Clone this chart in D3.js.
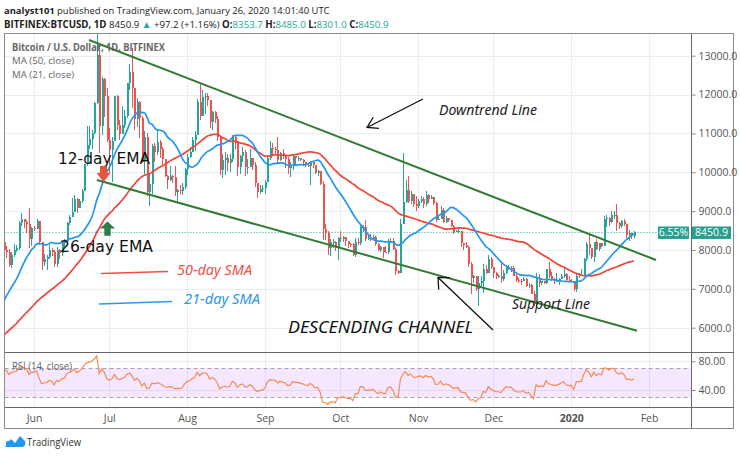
<!DOCTYPE html>
<html><head><meta charset="utf-8">
<script src="https://cdn.jsdelivr.net/npm/d3@7"></script>
<style>body{margin:0;background:#fff}svg{display:block}</style>
</head><body>
<svg id="c" width="740" height="457"></svg>
<script>
// ---------- DATA ----------
const closeStart = "2019-03-20";
const closes = [
 4076,4000,4010,4020,4000,3920,3940,4090,4080,4110,4100,4110,
 4140,4860,4970,4920,5040,5080,5200,5280,5180,5310,5060,5070,5070,5160,5030,5230,5240,5290,5260,5300,5260,5370,5530,5420,5170,5230,5240,5230,5210,5320,
 5380,5490,5770,5830,5770,5720,5830,5990,6170,6350,7230,6970,7810,7990,8210,7880,7340,7270,8200,7990,7940,7620,7880,8000,8060,8690,8800,8720,8660,8270,8560,
 8550,8740,8210,7690,7780,7810,8000,7950,7630,8010,7920,8170,8220,8700,8860,8990,9320,9080,9270,9530,10210,10700,10860,11010,11790,13020,11180,12410,11960,10820,
 10580,10800,11960,11220,10980,11210,11450,12290,12570,12160,11360,11820,11390,10260,10900,9480,9690,10670,10530,10770,10600,10340,9900,9810,9910,9870,9480,9550,9520,9610,10090,
 10400,10520,10820,10970,11800,11450,11940,11970,11860,11300,11540,11380,10900,10050,10310,10360,10230,10340,10920,10760,10130,10410,10530,10140,10140,10370,10190,9720,9480,9580,9600,
 9760,10370,10620,10590,10580,10320,10490,10410,10340,10120,10150,10420,10360,10360,10310,10260,10190,10160,10270,10180,9990,10030,9700,8530,8430,8060,8200,8200,8040,8310,
 8290,8340,8230,8160,8150,7880,8210,8190,8590,8590,8270,8300,8290,8340,8160,8000,8080,7960,7950,8220,8240,8030,7470,7410,8660,9240,9550,9250,9430,9180,9140,
 9260,9320,9180,9410,9310,9360,9210,8770,8810,9040,8730,8820,8760,8630,8460,8490,8500,8170,8120,8080,7630,7280,7320,6990,7150,7190,7520,7420,7760,7570,
 7420,7320,7320,7250,7400,7550,7510,7530,7340,7220,7200,7190,7250,7070,7110,6880,6620,7280,7150,7190,7150,7510,7320,7260,7200,7200,7250,7320,7390,7220,7190,
 7200,6990,7340,7350,7360,7760,8160,8040,7820,8200,8020,8180,8110,8810,8820,8720,8900,8910,8700,8630,8740,8660,8390,8430,8353.7,8450.9
];
const candleStart = "2019-05-15";
const highs = [
 8300,8320,7930,7440,8260,8200,8100,8030,7950,8160,8140,8740,8940,8800,8760,9080,8590,
 8620,8800,8740,8210,7900,7880,8140,8050,7990,8070,8020,8220,8280,8710,8910,9350,9420,9330,9300,9580,10220,11200,11200,11100,11800,13900,13310,12450,12430,12180,
 11150,10900,11970,12000,11350,11700,11590,12300,12780,13200,12140,11900,11840,11440,11050,11000,9970,10740,10760,11100,10830,10660,10350,9920,10160,9920,10170,9580,9680,9720,10120,
 10460,10660,10920,11060,11890,12290,12110,12040,12040,11860,11580,11580,11450,10900,10480,10520,10470,10480,10950,10930,10790,10440,10640,10570,10330,10610,10380,10270,9720,9660,9670,
 9800,10440,10800,10760,10650,10900,10530,10590,10450,10390,10270,10450,10420,10420,10370,10350,10270,10230,10290,10270,10190,10050,10030,9780,8680,8490,8280,8290,8240,8330,
 8490,8360,8340,8230,8170,8170,8300,8300,8650,8650,8770,8410,8400,8390,8350,8170,8100,8080,8100,8280,8320,8310,8050,7490,8810,10500,9790,9900,9510,9450,9400,
 9300,9380,9360,9510,9440,9420,9370,9230,8870,9130,9070,8870,8830,8780,8650,8520,8600,8500,8180,8210,8100,7690,7350,7320,7320,7330,7640,7620,7860,7810,
 7570,7430,7390,7720,7490,7570,7620,7580,7600,7390,7280,7250,7300,7270,7160,7130,6950,7400,7370,7210,7200,7520,7680,7440,7280,7420,7280,7370,7530,7410,7330,
 7250,7210,7410,7400,7500,7790,8210,8400,8050,8200,8290,8190,8180,8880,8900,8850,9010,9000,9180,8720,8760,8790,8660,8510,8440,8485.0
];
const lows = [
 7950,7680,6900,7120,7270,7600,7800,7560,7540,7820,7960,8000,8630,8570,8450,8050,8100,
 8480,8540,8130,7480,7600,7490,7780,7840,7550,7560,7770,7850,8070,8180,8650,8840,8990,8940,9070,9210,9530,10150,10600,10600,10990,11750,10490,10950,11420,10780,
 9960,9760,10800,11080,10830,10990,11140,11400,12130,11650,11100,11170,10890,10230,9950,9380,9130,9440,10270,10450,10370,10170,9870,9580,9770,9730,9380,9200,9430,9420,9580,
 9920,10360,10530,10560,10970,11350,11450,11500,11700,11150,11080,11260,10800,9930,9850,9920,10040,10010,10270,10600,9900,9960,10270,9900,9950,10150,10060,9630,9350,9430,9500,
 9430,9750,10320,10440,10480,10240,10300,10330,10120,9950,9880,10070,10180,10290,10280,10150,10140,10130,9670,10110,9960,9900,9660,8250,8250,7860,7850,8040,7970,7730,
 8210,8210,8090,8040,8070,7840,7810,8140,8140,8470,8230,8260,8240,8250,8100,7970,7950,7800,7910,7900,8200,8010,7360,7370,7400,8920,9210,9220,9180,9100,9000,
 9070,9220,9080,9140,9210,9300,9170,8730,8760,8790,8690,8700,8720,8600,8400,8460,8440,8080,8010,8040,7550,6860,7150,6940,6560,7070,6890,7370,7420,7500,
 7270,7250,7270,7150,7200,7380,7490,7440,7320,7170,7160,7110,7190,7040,7030,6860,6560,6500,7050,7110,7130,7130,7270,7200,7130,7180,7100,7260,7290,7190,7170,
 7170,6940,6910,7280,7330,7350,7720,7870,7770,7700,8000,7980,8070,8100,8600,8620,8700,8810,8500,8530,8560,8610,8320,8230,8280,8301.0
];
const priceTicks = [6000,7000,8000,9000,10000,11000,12000,13000];
const rsiTicks = [40, 80];
const rsiBands = [70, 30];
const maLengths = {slow: 50, fast: 21};
const rsiLength = 14;
// drawn trend lines (time, price)
const upperLine = [["2019-06-22T22:00Z", 13404], ["2020-02-03T19:00Z", 7742]];
const lowerLine = [["2019-06-26T02:00Z", 9801], ["2020-01-27T05:00Z", 5923]];
const lastPrice = 8450.9;
const lastChange = "6.55%";

// ---------- BUILD ----------
const DAY = 864e5;
const t0 = Date.parse(closeStart + "T00:00Z");
const series = closes.map((c, i) => ({date: new Date(t0 + i * DAY), close: c}));
const c0 = Math.round((Date.parse(candleStart + "T00:00Z") - t0) / DAY);
const candles = highs.map((h, k) => {
  const i = c0 + k;
  return {date: series[i].date, open: closes[i - 1], close: closes[i], high: h, low: lows[k]};
});
function sma(n) {
  const out = [];
  let s = 0;
  for (let i = 0; i < closes.length; i++) {
    s += closes[i];
    if (i >= n) s -= closes[i - n];
    if (i >= n - 1) out.push({date: series[i].date, v: s / n});
  }
  return out;
}
function rsi(n) {
  const out = [];
  let ag = 0, al = 0;
  for (let i = 1; i < closes.length; i++) {
    const d = closes[i] - closes[i - 1];
    const g = Math.max(d, 0), l = Math.max(-d, 0);
    if (i <= n) { ag += g / n; al += l / n; }
    else { ag = (ag * (n - 1) + g) / n; al = (al * (n - 1) + l) / n; }
    if (i >= n) out.push({date: series[i].date, v: al === 0 ? 100 : 100 - 100 / (1 + ag / al)});
  }
  return out;
}

// ---------- LAYOUT ----------
const svg = d3.select("#c");
const L = 4.5, R = 733.5, T = 33.5, B = 428.5, AX = 691.5, SEP1 = 352.5, SEP2 = 407.5;
const x = d3.scaleUtc().domain([new Date("2019-06-01T00:00Z"), new Date("2020-02-01T00:00Z")]).range([34, 649]);
const y = d3.scaleLinear().domain([6000, 13000]).range([327.7, 55.7]);
const yr = d3.scaleLinear().domain([40, 80]).range([390, 361.3]);
const green = "#26a69a", red = "#ef5350", grid = "#e9eef3", txt = "#555";
const fontAx = "Open Sans, sans-serif";

const defs = svg.append("defs");
defs.append("clipPath").attr("id", "mainClip").append("rect").attr("x", 5).attr("y", 34).attr("width", AX - 5.5).attr("height", SEP1 - 34.5);
defs.append("clipPath").attr("id", "rsiClip").append("rect").attr("x", 5).attr("y", SEP1 + 0.5).attr("width", AX - 5.5).attr("height", SEP2 - SEP1 - 1);

// header: runs of text laid out one after another, scaled to the reference width
function seqText(runs, x0, yb, width, base) {
  const g = svg.append("g");
  const els = runs.map(([s, k]) => g.append("text").attr("y", yb).attr("font-family", fontAx).attr("font-size", base)
    .attr("font-weight", k === "b" ? "bold" : "normal").attr("fill", k === "g" ? green : "#222").attr("xml:space", "preserve").text(s));
  const total = els.reduce((a, e) => a + e.node().getComputedTextLength(), 0);
  const size = base * width / total;
  let cx = x0;
  els.forEach(e => { e.attr("font-size", size).attr("x", cx); cx += e.node().getComputedTextLength(); });
}
seqText([["analyst101", "b"], [" published on TradingView.com, January 26, 2020 14:01:40 UTC", "n"]], 4, 14, 326, 11.5);
seqText([["BITFINEX:BTCUSD, 1D", "b"], [" 8450.9 ", "n"], ["▲", "g"], [" +97.2 (+1.16%) ", "n"], ["O:", "b"], ["8353.7", "g"], [" H:", "b"], ["8485.0", "g"], [" L:", "b"], ["8301.0", "g"], [" C:", "b"], ["8450.9", "g"]], 4, 28, 385, 11.5);

// grid
const gridG = svg.append("g").attr("stroke", grid).attr("stroke-width", 1);
const months = x.ticks(d3.utcMonth.every(1));
months.forEach(m => {
  const xx = Math.round(x(m)) + 0.5;
  gridG.append("line").attr("x1", xx).attr("x2", xx).attr("y1", T).attr("y2", SEP2);
});
priceTicks.forEach(p => {
  const yy = Math.round(y(p)) + 0.5;
  gridG.append("line").attr("x1", L).attr("x2", AX).attr("y1", yy).attr("y2", yy);
});
rsiTicks.forEach(p => {
  const yy = Math.round(yr(p)) + 0.5;
  gridG.append("line").attr("x1", L).attr("x2", AX).attr("y1", yy).attr("y2", yy);
});

// RSI band
const rsiG = svg.append("g").attr("clip-path", "url(#rsiClip)");
rsiG.append("rect").attr("x", L).attr("width", AX - L).attr("y", yr(rsiBands[0])).attr("height", yr(rsiBands[1]) - yr(rsiBands[0])).attr("fill", "#9915ff").attr("fill-opacity", 0.1);
rsiBands.forEach(b => rsiG.append("line").attr("x1", L).attr("x2", AX).attr("y1", Math.round(yr(b)) + 0.5).attr("y2", Math.round(yr(b)) + 0.5)
  .attr("stroke", "#a8a0b0").attr("stroke-dasharray", "4,3"));
rsiG.append("path").datum(rsi(rsiLength)).attr("fill", "none").attr("stroke", "#f78a50").attr("stroke-width", 1.2)
  .attr("d", d3.line().x(d => x(d.date)).y(d => yr(d.v)));

// main pane
const main = svg.append("g").attr("clip-path", "url(#mainClip)");
main.append("line").attr("x1", L).attr("x2", AX).attr("y1", y(lastPrice)).attr("y2", y(lastPrice)).attr("stroke", green).attr("stroke-dasharray", "1,2");
const cg = main.append("g").attr("shape-rendering", "crispEdges");
candles.forEach(d => {
  const cx = Math.round(x(d.date));
  const col = d.close >= d.open ? green : red;
  const top = y(Math.max(d.open, d.close)), bot = y(Math.min(d.open, d.close));
  const hi = y(Math.max(d.high, d.open, d.close)), lo = y(Math.min(d.low, d.open, d.close));
  cg.append("rect").attr("x", cx).attr("width", 1).attr("y", hi).attr("height", lo - hi).attr("fill", col);
  cg.append("rect").attr("x", cx - 0.5).attr("width", 2).attr("y", top).attr("height", Math.max(1, bot - top)).attr("fill", col);
});
const ln = d3.line().x(d => x(d.date)).y(d => y(d.v)).curve(d3.curveMonotoneX);
main.append("path").datum(sma(maLengths.slow)).attr("fill", "none").attr("stroke", "#f44336").attr("stroke-width", 1.7).attr("d", ln);
main.append("path").datum(sma(maLengths.fast)).attr("fill", "none").attr("stroke", "#2196f3").attr("stroke-width", 1.7).attr("d", ln);
[upperLine, lowerLine].forEach(seg => main.append("line")
  .attr("x1", x(new Date(seg[0][0]))).attr("y1", y(seg[0][1])).attr("x2", x(new Date(seg[1][0]))).attr("y2", y(seg[1][1]))
  .attr("stroke", "#337a35").attr("stroke-width", 2));

// frame and separators
const fr = svg.append("g").attr("stroke", "#8a8a8a").attr("fill", "none").attr("shape-rendering", "crispEdges");
fr.append("rect").attr("x", L).attr("y", T).attr("width", R - L).attr("height", B - T);
fr.append("line").attr("x1", L).attr("x2", R).attr("y1", SEP1).attr("y2", SEP1).attr("stroke", "#666");
fr.append("line").attr("x1", L).attr("x2", R).attr("y1", SEP2).attr("y2", SEP2).attr("stroke", "#666");
fr.append("line").attr("x1", AX).attr("x2", AX).attr("y1", T).attr("y2", B).attr("stroke", "#666");

// axes
const pa = svg.append("g").attr("transform", `translate(${AX},0)`)
  .call(d3.axisRight(y).tickValues(priceTicks).tickFormat(d3.format(".1f")).tickSize(4).tickPadding(3));
const ra = svg.append("g").attr("transform", `translate(${AX},0)`)
  .call(d3.axisRight(yr).tickValues(rsiTicks).tickFormat(d3.format(".2f")).tickSize(4).tickPadding(3));
[pa, ra].forEach(g => {
  g.select(".domain").remove();
  g.selectAll("line").attr("stroke", "#888");
  g.selectAll("text").attr("fill", txt).attr("font-family", fontAx).attr("font-size", 10.5);
});
const fmtM = d => d.getUTCMonth() === 0 ? String(d.getUTCFullYear()) : d3.utcFormat("%b")(d);
const ta = svg.append("g").attr("transform", `translate(0,${SEP2})`)
  .call(d3.axisBottom(x).ticks(d3.utcMonth.every(1)).tickFormat(fmtM).tickSize(0).tickPadding(7));
ta.select(".domain").remove();
ta.selectAll("text").attr("fill", txt).attr("font-family", fontAx).attr("font-size", 10.5)
  .attr("font-weight", d => d.getUTCMonth() === 0 ? "bold" : "normal");

// price tag
const tagY = y(lastPrice);
svg.append("rect").attr("x", 658).attr("y", tagY - 6).attr("width", 31).attr("height", 12.5).attr("fill", "#28a08f");
svg.append("rect").attr("x", 692).attr("y", tagY - 6).attr("width", 39).attr("height", 12.5).attr("fill", "#28a08f");
svg.append("text").attr("x", 673.5).attr("y", tagY + 4).attr("text-anchor", "middle").attr("fill", "#fff").attr("font-family", fontAx).attr("font-size", 10.5).text(lastChange);
svg.append("text").attr("x", 711.5).attr("y", tagY + 4).attr("text-anchor", "middle").attr("fill", "#fff").attr("font-family", fontAx).attr("font-size", 10.5).text(d3.format(".1f")(lastPrice));

// legends
const leg = (s, xx, yy, w, bold, size) => svg.append("text").attr("x", xx).attr("y", yy).attr("fill", "#666").attr("font-family", fontAx)
  .attr("font-size", size).attr("font-weight", bold ? "bold" : "normal").attr("textLength", w).attr("lengthAdjust", "spacingAndGlyphs").text(s);
leg("Bitcoin / U.S. Dollar, 1D, BITFINEX", 12, 50.5, 153, true, 10.5);
leg("MA (50, close)", 12, 64, 62, false, 9.6);
leg("MA (21, close)", 12, 77.5, 62, false, 9.6);
leg("RSI (14, close)", 12, 370, 60, false, 10.5);

// annotations
const ann = (s, xx, yy, w, size, col, italic) => svg.append("text").attr("x", xx).attr("y", yy).attr("fill", col)
  .attr("font-family", italic ? "Noto Sans, sans-serif" : "DejaVu Sans, sans-serif").attr("font-style", italic ? "italic" : "normal")
  .attr("font-size", size).attr("textLength", w).attr("lengthAdjust", "spacingAndGlyphs").text(s);
ann("12-day EMA", 58, 164, 92, 16, "#111", false);
ann("26-day EMA", 60, 252, 93, 16, "#111", false);
ann("50-day SMA", 177, 275, 75, 14, "#f0504a", true);
ann("21-day SMA", 184, 304, 76, 14, "#2f95ee", true);
ann("Downtrend Line", 439, 115, 98, 14, "#222", true);
ann("DESCENDING CHANNEL", 288, 332.5, 185, 16.5, "#111", true);
ann("Support Line", 512, 308.5, 78, 14, "#222", true);
svg.append("line").attr("x1", 101).attr("y1", 273.5).attr("x2", 168).attr("y2", 271.5).attr("stroke", "#f0504a").attr("stroke-width", 1.6);
svg.append("line").attr("x1", 99).attr("y1", 304).attr("x2", 172).attr("y2", 301.5).attr("stroke", "#2f95ee").attr("stroke-width", 1.6);
function arrow(x1, y1, x2, y2, spread, len) {
  const a = Math.atan2(y1 - y2, x1 - x2);
  const g = svg.append("g").attr("stroke", "#111").attr("stroke-width", 1.3).attr("fill", "none");
  g.append("line").attr("x1", x1).attr("y1", y1).attr("x2", x2).attr("y2", y2);
  g.append("path").attr("d", `M${x2 + len * Math.cos(a - spread)},${y2 + len * Math.sin(a - spread)}L${x2},${y2}L${x2 + len * Math.cos(a + spread)},${y2 + len * Math.sin(a + spread)}`);
}
arrow(423, 99, 367, 127.5, 0.55, 12);
arrow(493, 330, 438, 277.5, 0.75, 12);
svg.append("path").attr("fill", "#e4553e").attr("d", "M100,166H107V173H110.5L103.5,182L96.5,173H100Z");
svg.append("path").attr("fill", "#2e7b4c").attr("d", "M107.5,221.5L115,228.5H110.7V235.7H104.3V228.5H100Z");

// TradingView logo
const lg = svg.append("g").attr("fill", "#2196f3");
lg.append("path").attr("d", "M5,447 L11,439 L15,443 L20,436 L25,441 C26,443 25,447 22,447 Z");
lg.append("circle").attr("cx", 9).attr("cy", 444).attr("r", 3.2);
svg.append("text").attr("x", 27).attr("y", 446).attr("fill", "#333").attr("font-family", fontAx).attr("font-size", 11.5)
  .attr("textLength", 54).attr("lengthAdjust", "spacingAndGlyphs").text("TradingView");
</script>
</body></html>
